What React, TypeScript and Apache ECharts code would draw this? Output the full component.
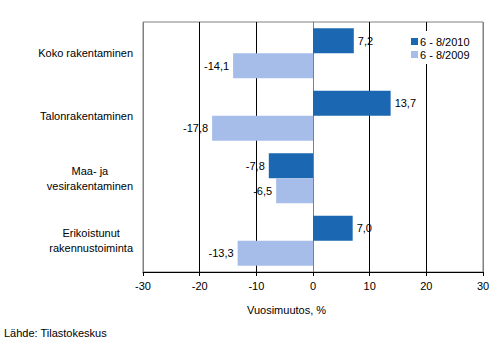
import React, { useEffect, useRef } from "react";
import * as echarts from "echarts";

const categories = [
  "Koko rakentaminen",
  "Talonrakentaminen",
  "Maa- ja\nvesirakentaminen",
  "Erikoistunut\nrakennustoiminta",
];
const series2010 = [7.2, 13.7, -7.8, 7.0];
const series2009 = [-14.1, -17.8, -6.5, -13.3];
const seriesNames = ["6 - 8/2010", "6 - 8/2009"];
const xMin = -30;
const xMax = 30;
const xInterval = 10;

const FONT = "Liberation Sans, Arial, sans-serif";

const fmt = (v: number) => v.toFixed(1).replace(".", ",");

export default function App() {
  const ref = useRef<HTMLDivElement>(null);
  useEffect(() => {
    if (!ref.current) return;
    const chart = echarts.init(ref.current, undefined, { renderer: "svg" });
    const label = {
      show: true,
      formatter: (p: any) => fmt(p.value),
      color: "#000",
      fontFamily: FONT,
      fontSize: 11,
      distance: 4,
    };
    chart.setOption({
      animation: false,
      backgroundColor: "#fff",
      textStyle: { fontFamily: FONT },
      grid: {
        left: 143,
        right: 16,
        top: 22,
        bottom: 82,
        show: true,
        borderColor: "#808080",
        borderWidth: 1,
      },
      legend: {
        orient: "vertical",
        left: 407,
        top: 31,
        itemWidth: 7,
        itemHeight: 7,
        itemGap: 2,
        icon: "rect",
        backgroundColor: "#fff",
        padding: [5, 4, 4, 4],
        textStyle: { fontFamily: FONT, fontSize: 11, color: "#000", padding: [0, 0, 0, -3] },
        data: seriesNames,
      },
      xAxis: {
        type: "value",
        min: xMin,
        max: xMax,
        interval: xInterval,
        axisLine: { show: true, lineStyle: { color: "#000", width: 1 } },
        axisTick: { show: true, length: 4, lineStyle: { color: "#000" } },
        axisLabel: { color: "#000", fontFamily: FONT, fontSize: 11, margin: 8 },
        splitLine: {
          show: true,
          lineStyle: {
            color: ["#808080", "#000", "#000", "#000", "#000", "#000", "#808080"],
            width: 1,
          },
        },
      },
      yAxis: {
        type: "category",
        data: categories,
        inverse: true,
        axisLine: { show: true, lineStyle: { color: "#808080" } },
        axisTick: { show: false },
        axisLabel: {
          color: "#000",
          fontFamily: FONT,
          fontSize: 11,
          margin: 10,
          align: "right",
          lineHeight: 15,
          formatter: (v: string) =>
            v
              .split("\n")
              .map((l) => "{c|" + l + "}")
              .join("\n"),
          rich: {
            c: {
              align: "center",
              color: "#000",
              fontFamily: FONT,
              fontSize: 11,
              lineHeight: 15,
            },
          },
        },
      },
      series: [
        {
          name: seriesNames[0],
          type: "bar",
          data: series2010.map((v) => ({
            value: v,
            label: { ...label, position: v >= 0 ? "right" : "left" },
          })),
          itemStyle: { color: "#1B67B1" },
          barGap: "0%",
          barCategoryGap: "20%",
        },
        {
          name: seriesNames[1],
          type: "bar",
          data: series2009.map((v) => ({
            value: v,
            label: { ...label, position: v >= 0 ? "right" : "left" },
          })),
          itemStyle: { color: "#A6BDE9" },
          barGap: "0%",
          barCategoryGap: "20%",
        },
      ],
      graphic: [
        {
          type: "text",
          left: 247,
          top: 304,
          style: { text: "Vuosimuutos, %", fontFamily: FONT, fontSize: 11, fill: "#000" },
        },
        {
          type: "text",
          left: 4,
          top: 327,
          style: { text: "Lähde: Tilastokeskus", fontFamily: FONT, fontSize: 11, fill: "#000" },
        },
      ],
    });
    return () => chart.dispose();
  }, []);
  return (
    <div
      ref={ref}
      style={{ position: "fixed", left: 0, top: 0, width: 499, height: 354 }}
    />
  );
}
